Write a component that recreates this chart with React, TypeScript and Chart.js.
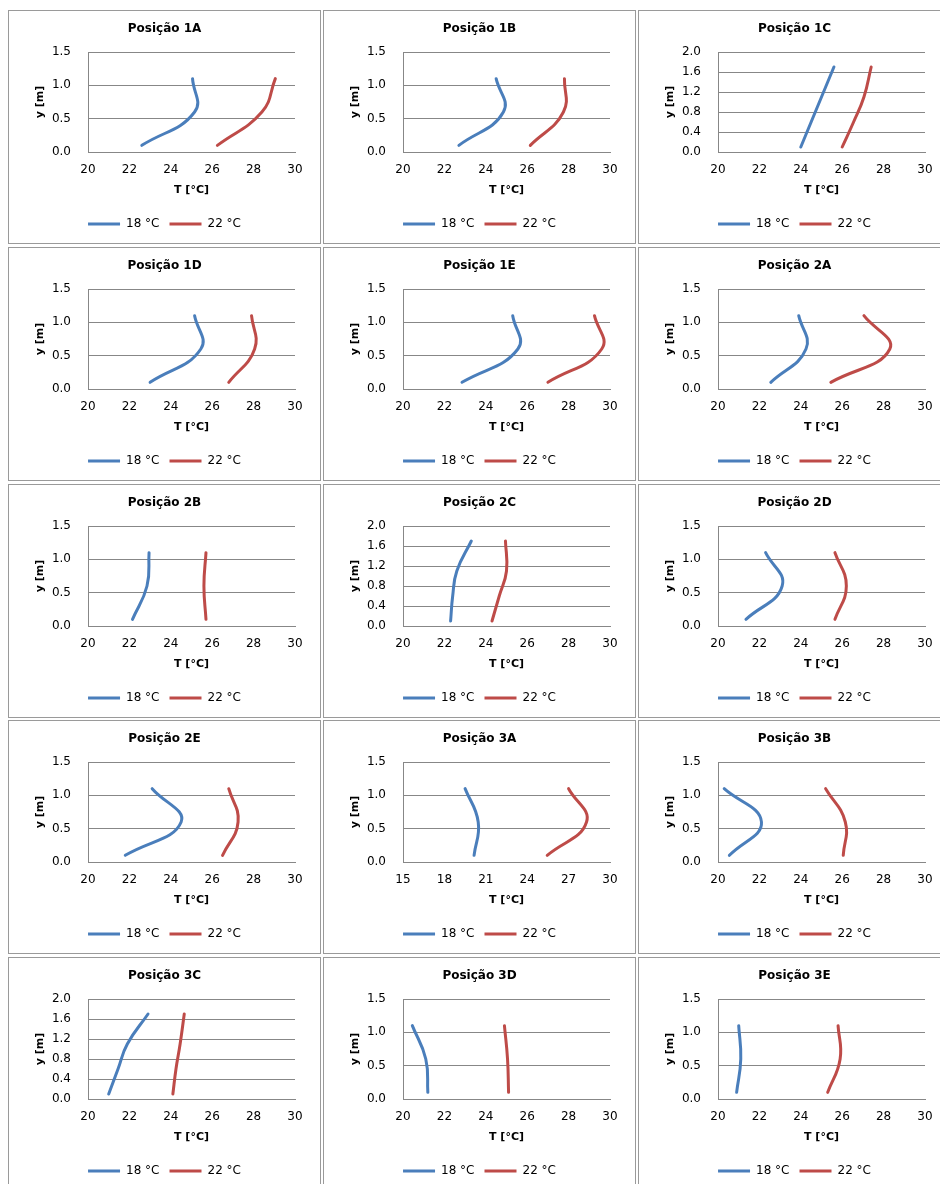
import React, { useEffect, useRef } from "react";
import { Chart, registerables } from "chart.js";

Chart.register(...registerables);

// ---- data ----
const positions = ["1A", "1B", "1C", "1D", "1E", "2A", "2B", "2C", "2D", "2E", "3A", "3B", "3C", "3D", "3E"];
const seriesLabels = ["18 °C", "22 °C"];
const heightsLow = [0.1, 0.6, 1.1];
const heightsHigh = [0.1, 0.6, 1.1, 1.7];

const temps18 = [
  [22.6, 25.15, 25.05],
  [22.7, 24.85, 24.5],
  [24.0, 24.5, 25.0, 25.6],
  [23.0, 25.45, 25.15],
  [22.85, 25.55, 25.3],
  [22.55, 24.25, 23.9],
  [22.15, 22.85, 22.95],
  [22.3, 22.4, 22.6, 23.3],
  [21.35, 23.1, 22.3],
  [21.8, 24.5, 23.1],
  [20.15, 20.45, 19.5],
  [20.55, 22.1, 20.3],
  [21.0, 21.45, 21.9, 22.9],
  [21.2, 21.1, 20.45],
  [20.9, 21.1, 21.0],
];

const temps22 = [
  [26.25, 28.4, 29.05],
  [26.15, 27.75, 27.8],
  [26.0, 26.55, 27.05, 27.4],
  [26.8, 28.05, 27.9],
  [27.0, 29.6, 29.25],
  [25.45, 28.3, 27.05],
  [25.7, 25.6, 25.7],
  [24.3, 24.65, 25.0, 24.95],
  [25.65, 26.2, 25.65],
  [26.5, 27.25, 26.8],
  [25.45, 28.3, 27.0],
  [26.05, 26.15, 25.2],
  [24.1, 24.25, 24.45, 24.65],
  [25.1, 25.05, 24.9],
  [25.3, 25.9, 25.8],
];

const yAxisMax = [1.5, 1.5, 2.0, 1.5, 1.5, 1.5, 1.5, 2.0, 1.5, 1.5, 1.5, 1.5, 2.0, 1.5, 1.5];
const yAxisStep = [0.5, 0.5, 0.4, 0.5, 0.5, 0.5, 0.5, 0.4, 0.5, 0.5, 0.5, 0.5, 0.4, 0.5, 0.5];
const xAxisMin = [20, 20, 20, 20, 20, 20, 20, 20, 20, 20, 15, 20, 20, 20, 20];
const xAxisMax = [30, 30, 30, 30, 30, 30, 30, 30, 30, 30, 30, 30, 30, 30, 30];
const xAxisStep = [2, 2, 2, 2, 2, 2, 2, 2, 2, 2, 3, 2, 2, 2, 2];

// ---- style ----
const FONT = "'DejaVu Sans', Verdana, sans-serif";
const BLUE = "#4A7EBB";
const RED = "#BE4B48";
const GRID = "#878787";
const TEXT = "#000000";
const colLeft = [8, 323, 638];
const rowTop = [10, 247, 484, 720, 957];
const PANEL_W = 313;
const PANEL_H = 234;

function Panel({ idx }: { idx: number }) {
  const ref = useRef<HTMLCanvasElement | null>(null);

  useEffect(() => {
    if (!ref.current) return;
    const heights = yAxisMax[idx] > 1.5 ? heightsHigh : heightsLow;
    const mk = (temps: number[], label: string, color: string) => ({
      label,
      data: heights.map((h, i) => ({ x: temps[i], y: h })),
      borderColor: color,
      backgroundColor: color,
      borderWidth: 3,
      showLine: true,
      tension: 0.45,
      pointRadius: 0,
      pointHoverRadius: 0,
      borderCapStyle: "round" as const,
      clip: false as const,
    });
    const chart = new Chart(ref.current, {
      type: "scatter",
      data: {
        datasets: [
          mk(temps18[idx], seriesLabels[0], BLUE),
          mk(temps22[idx], seriesLabels[1], RED),
        ],
      },
      options: {
        responsive: false,
        animation: false,
        layout: { padding: { left: 0, right: 0, top: 0, bottom: 3 } },
        plugins: {
          title: {
            display: true,
            text: "Posição " + positions[idx],
            color: TEXT,
            font: { family: FONT, size: 12, weight: "bold" },
            padding: { top: 10.8, bottom: 15.8 },
          },
          legend: {
            position: "bottom",
            labels: {
              usePointStyle: true,
              pointStyle: "line",
              pointStyleWidth: 32,
              boxHeight: 12,
              padding: 10,
              color: TEXT,
              font: { family: FONT, size: 12 },
            },
          },
          tooltip: { enabled: false },
        },
        scales: {
          x: {
            type: "linear",
            min: xAxisMin[idx],
            max: xAxisMax[idx],
            ticks: {
              stepSize: xAxisStep[idx],
              padding: 10.8,
              color: TEXT,
              font: { family: FONT, size: 12 },
            },
            grid: { display: false, drawTicks: false },
            border: { display: true, color: GRID, width: 1 },
            title: {
              display: true,
              text: "T [°C]",
              color: TEXT,
              font: { family: FONT, size: 11, weight: "bold" },
              padding: { top: 0, bottom: 11.4 },
            },
            afterFit: (s: any) => {
              s.height = 56;
              s.paddingRight = 25;
            },
          },
          y: {
            type: "linear",
            min: 0,
            max: yAxisMax[idx],
            ticks: {
              stepSize: yAxisStep[idx],
              padding: 17,
              color: TEXT,
              font: { family: FONT, size: 12 },
              callback: (v: any) => Number(v).toFixed(1),
            },
            grid: { color: GRID, lineWidth: 1, drawTicks: false },
            border: { display: true, color: GRID, width: 1 },
            title: {
              display: true,
              text: "y [m]",
              color: TEXT,
              font: { family: FONT, size: 11, weight: "bold" },
              padding: { top: 24.4, bottom: 0 },
            },
            afterFit: (s: any) => {
              s.width = 79;
            },
          },
        },
      } as any,
    });
    return () => chart.destroy();
  }, [idx]);

  const col = idx % 3;
  const row = Math.floor(idx / 3);
  return (
    <div
      style={{
        position: "absolute",
        left: colLeft[col],
        top: rowTop[row],
        width: PANEL_W,
        height: PANEL_H,
        border: "1px solid #9a9a9a",
        boxSizing: "border-box",
        background: "#ffffff",
      }}
    >
      <canvas
        ref={ref}
        width={PANEL_W - 2}
        height={PANEL_H - 2}
        style={{ display: "block", width: PANEL_W - 2, height: PANEL_H - 2 }}
      />
    </div>
  );
}

export default function App() {
  return (
    <div
      style={{
        position: "fixed",
        left: 0,
        top: 0,
        width: 940,
        height: 1184,
        overflow: "hidden",
        background: "#ffffff",
      }}
    >
      {positions.map((_, i) => (
        <Panel key={i} idx={i} />
      ))}
    </div>
  );
}
